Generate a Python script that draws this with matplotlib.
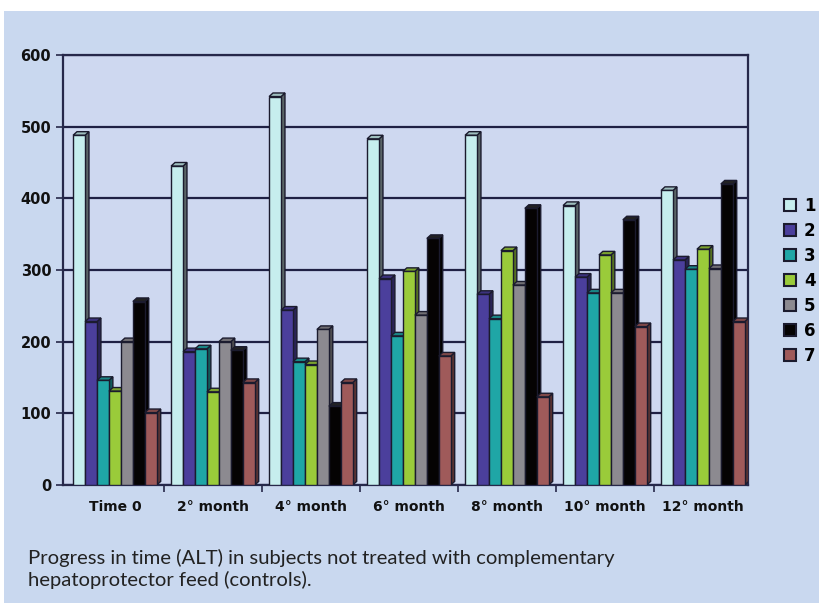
import numpy as np
import matplotlib.pyplot as plt
from matplotlib.patches import Polygon, Rectangle
from matplotlib.colors import to_rgb

# ALT values per subject (1-7) at each check-up
periods = ["Time 0", "2° month", "4° month", "6° month", "8° month", "10° month", "12° month"]
subjects = ["1", "2", "3", "4", "5", "6", "7"]
s1 = [488, 445, 542, 483, 488, 390, 411]
s2 = [228, 186, 244, 288, 266, 290, 314]
s3 = [146, 190, 172, 208, 232, 268, 301]
s4 = [131, 130, 168, 298, 327, 321, 329]
s5 = [200, 200, 217, 237, 279, 268, 302]
s6 = [256, 188, 110, 344, 386, 370, 420]
s7 = [101, 143, 143, 180, 123, 221, 228]
series = [s1, s2, s3, s4, s5, s6, s7]

colors = ["#c6eeee", "#4b3f9c", "#1fa6a6", "#9acb3a", "#8c8a90", "#050303", "#9f5a5a"]
edge = "#1b1b2e"
bg = "#c9d8ef"
wall = "#ced8f0"

fig = plt.figure(figsize=(8.2, 6.03), dpi=100)
fig.patch.set_facecolor(bg)
# white page margin along the top and left edges
fig.patches.append(Rectangle((0, 1 - 11 / 603), 1, 11 / 603, transform=fig.transFigure,
                             facecolor="white", edgecolor="none", zorder=0))
fig.patches.append(Rectangle((0, 0), 4 / 820, 1, transform=fig.transFigure,
                             facecolor="white", edgecolor="none", zorder=0))

ax = fig.add_axes([63 / 820, 1 - 485 / 603, 685 / 820, 430 / 603])
ax.set_facecolor(wall)

w = 0.122      # bar width
dx = 0.04      # depth offset (x)
dy = 5.0       # depth offset (y)
x = np.arange(len(periods))

def darker(c, f):
    r, g, b = to_rgb(c)
    return (r * f, g * f, b * f)

for k, vals in enumerate(series):
    xl = x - 3.5 * w + k * w
    ax.bar(xl, vals, width=w, align="edge", color=colors[k], edgecolor=edge,
           linewidth=1.0, zorder=3 + 2 * k)
    for xi, h in zip(xl, vals):
        side = Polygon([(xi + w, 0), (xi + w + dx, dy), (xi + w + dx, h + dy), (xi + w, h)],
                       closed=True, facecolor=darker(colors[k], 0.55) if k != 0 else "#5a6466",
                       edgecolor=edge, linewidth=1.0, zorder=2 + 2 * k)
        top = Polygon([(xi, h), (xi + dx, h + dy), (xi + w + dx, h + dy), (xi + w, h)],
                      closed=True, facecolor=darker(colors[k], 0.8) if k != 5 else "#222222",
                      edgecolor=edge, linewidth=1.0, zorder=2 + 2 * k)
        ax.add_patch(side)
        ax.add_patch(top)

ax.set_xlim(-0.53, 6.46)
ax.set_ylim(0, 600)
ax.set_yticks(range(0, 601, 100))
ax.yaxis.grid(True, color="#1f2044", linewidth=1.6, zorder=1)
ax.set_axisbelow(True)

for s in ["left", "top", "right", "bottom"]:
    ax.spines[s].set_color("#26284a")
    ax.spines[s].set_linewidth(1.6)

ax.set_xticks(x)
ax.set_xticklabels(periods, fontsize=10, fontweight="bold", color="#111111")
ax.tick_params(axis="x", length=0, pad=11)
ax.set_xticks(x[:-1] + 0.5, minor=True)
ax.tick_params(axis="x", which="minor", length=5, color="#26284a", width=1.2, direction="out")
ax.tick_params(axis="y", labelsize=10.5, length=5, width=1.2, color="#26284a", labelcolor="#111111")
for t in ax.get_yticklabels():
    t.set_fontweight("bold")

handles = [Rectangle((0, 0), 1, 1, facecolor=c, edgecolor=edge, linewidth=1.5) for c in colors]
fig.legend(handles, subjects, loc="center left", bbox_to_anchor=(769 / 820, 1 - 281 / 603),
           frameon=False, handlelength=0.75, handleheight=0.75, handletextpad=0.45,
           labelspacing=0.42, prop={"weight": "bold", "size": 12})

fig.text(28 / 820, 1 - 569 / 603,
         "Progress in time (ALT) in subjects not treated with complementary\nhepatoprotector feed (controls).",
         fontsize=14.6, family=["Lato", "DejaVu Sans"], color="#222222",
         va="center", ha="left", linespacing=1.3)

fig.savefig("out.png", dpi=100, facecolor=fig.get_facecolor())
